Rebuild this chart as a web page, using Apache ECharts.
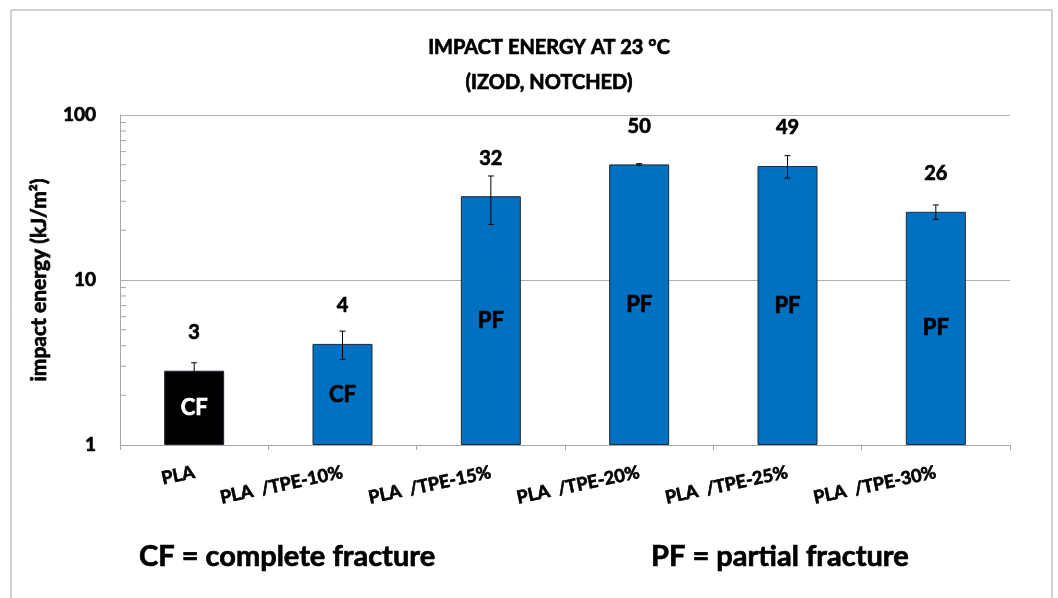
<!DOCTYPE html>
<html lang="en">

<head>
    <meta charset="UTF-8">
    <title>Impact energy</title>
    <style>
        body { margin: 0; background: #fff; }
        #box { width: 1058px; height: 598px; }
    </style>
</head>

<body>
    <div id="box"></div>
</body>
<script src="https://cdn.jsdelivr.net/npm/echarts@6/dist/echarts.min.js"></script>
<script>
    // data
    var categories = ["PLA", "PLA  /TPE-10%", "PLA  /TPE-15%", "PLA  /TPE-20%", "PLA  /TPE-25%", "PLA  /TPE-30%"];
    var energy = [2.82, 4.1, 32.2, 50.2, 49.1, 25.9];
    var errors = [0.33, 0.8, 10.5, 0.5, 7.6, 2.6];
    var topLabels = ["3", "4", "32", "50", "49", "26"];
    var fracture = ["CF", "CF", "PF", "PF", "PF", "PF"];
    var minorTicks = [2, 3, 4, 5, 6, 7, 8, 9, 20, 30, 40, 50, 60, 70, 80, 90];

    var font = "Lato";
    var weight = "bold";
    var thick = 0.7; // a thin outline makes the bold text a bit heavier, like Calibri bold
    var box = echarts.init(document.getElementById("box"));

    var barData = energy.map(function (v, i) {
        var black = i == 0;
        return {
            value: v,
            itemStyle: { color: black ? "#000000" : "#0070C0" },
            label: {
                color: black ? "#ffffff" : "#000000",
                textBorderColor: black ? "#ffffff" : "#000000"
            }
        };
    });

    var errData = energy.map(function (v, i) {
        return [i, v, errors[i]];
    });

    function txt(x, y, s, size, align) {
        return {
            type: "text",
            style: {
                x: x, y: y, text: s,
                align: align, verticalAlign: "middle",
                fill: "#000", stroke: "#000", lineWidth: thick,
                font: weight + " " + size + "px " + font
            }
        };
    }

    var option = {
        animation: false,
        grid: {
            left: 120,
            right: 48,
            top: 115,
            bottom: 153
        },
        xAxis: {
            type: "category",
            data: categories,
            axisLine: { lineStyle: { color: "#a6a6a6" } },
            axisTick: { show: true, length: 5, lineStyle: { color: "#a6a6a6" } },
            axisLabel: {
                interval: 0,
                rotate: 12,
                margin: 27,
                color: "#000",
                textBorderColor: "#000",
                textBorderWidth: thick,
                fontFamily: font,
                fontWeight: weight,
                fontSize: 18
            }
        },
        yAxis: {
            type: "log",
            logBase: 10,
            min: 1,
            max: 100,
            name: "impact energy (kJ/m²)",
            nameLocation: "middle",
            nameGap: 70,
            nameTextStyle: {
                color: "#000",
                textBorderColor: "#000",
                textBorderWidth: thick,
                fontFamily: font,
                fontWeight: weight,
                fontSize: 21
            },
            axisLine: { show: true, lineStyle: { color: "#a6a6a6" } },
            axisTick: { show: false },
            axisLabel: {
                margin: 24,
                color: "#000",
                textBorderColor: "#000",
                textBorderWidth: thick,
                fontFamily: font,
                fontWeight: weight,
                fontSize: 19
            },
            splitLine: { show: true, lineStyle: { color: "#b0b0b0" } }
        },
        series: [
            {
                type: "bar",
                barWidth: 60,
                data: barData,
                itemStyle: { borderColor: "#1f2a36", borderWidth: 1 },
                label: {
                    show: true,
                    position: "inside",
                    fontFamily: font,
                    fontWeight: weight,
                    fontSize: 22,
                    textBorderWidth: thick,
                    formatter: function (p) { return fracture[p.dataIndex]; }
                }
            },
            {
                // error bars and value labels
                type: "custom",
                data: errData,
                encode: { x: 0, y: 1 },
                clip: false,
                z: 5,
                renderItem: function (params, api) {
                    var i = api.value(0), v = api.value(1), e = api.value(2);
                    var top = api.coord([i, v + e]);
                    var bot = api.coord([i, v - e]);
                    var barTop = api.coord([i, v]);
                    var x = top[0];
                    var st = { stroke: "#000", lineWidth: 1 };
                    return {
                        type: "group",
                        children: [
                            { type: "line", shape: { x1: x, y1: top[1], x2: x, y2: bot[1] }, style: st },
                            { type: "line", shape: { x1: x - 3, y1: top[1], x2: x + 3, y2: top[1] }, style: st },
                            { type: "line", shape: { x1: x - 3, y1: bot[1], x2: x + 3, y2: bot[1] }, style: st },
                            txt(x, barTop[1] - 38, topLabels[params.dataIndex], 20, "center")
                        ]
                    };
                }
            },
            {
                // minor ticks of the log axis
                type: "custom",
                data: [[0, 1]],
                encode: { x: 0, y: 1 },
                silent: true,
                renderItem: function (params, api) {
                    var x0 = params.coordSys.x;
                    var kids = minorTicks.map(function (t) {
                        var p = api.coord([0, t]);
                        return {
                            type: "line",
                            shape: { x1: x0, y1: p[1], x2: x0 + 6, y2: p[1] },
                            style: { stroke: "#a6a6a6", lineWidth: 1 }
                        };
                    });
                    return { type: "group", children: kids };
                }
            }
        ],
        graphic: [
            {
                type: "rect",
                shape: { x: 11, y: 10, width: 1041, height: 610 },
                style: { fill: "none", stroke: "#a6a6a6", lineWidth: 1 }
            },
            txt(549, 48, "IMPACT ENERGY AT 23 °C", 20, "center"),
            txt(549, 83, "(IZOD, NOTCHED)", 20, "center"),
            txt(139, 557, "CF = complete fracture", 29, "left"),
            txt(651, 557, "PF = partial fracture", 29, "left")
        ]
    };
    box.setOption(option);
</script>

</html>
